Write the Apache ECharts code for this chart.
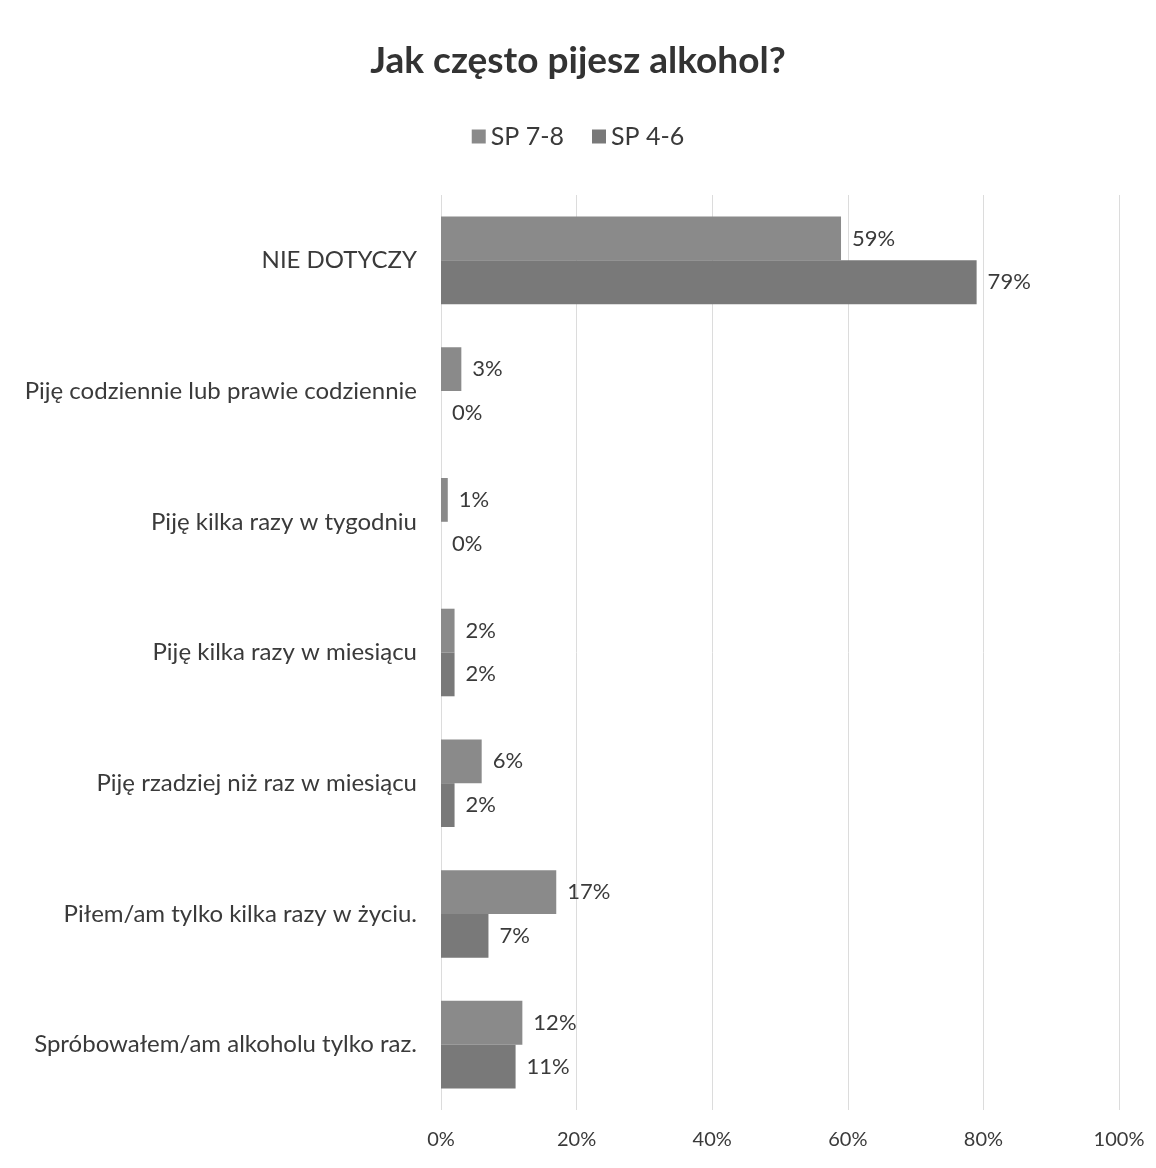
<!DOCTYPE html>
<html><head><meta charset="utf-8">
<script src="https://cdn.jsdelivr.net/npm/echarts@6/dist/echarts.min.js"></script>
<style>html,body{margin:0;padding:0;background:#fff}#c{width:1156px;height:1168px}</style>
</head><body><div id="c"></div>
<script>
const categories = ["NIE DOTYCZY","Piję codziennie lub prawie codziennie","Piję kilka razy w tygodniu","Piję kilka razy w miesiącu","Piję rzadziej niż raz w miesiącu","Piłem/am tylko kilka razy w życiu.","Spróbowałem/am alkoholu tylko raz."];
const sp78 = [59, 3, 1, 2, 6, 17, 12];
const sp46 = [79, 0, 0, 2, 2, 7, 11];
const seriesNames = ["SP 7-8", "SP 4-6"];
const xTicks = [0, 20, 40, 60, 80, 100];

const font = 'Lato, Carlito, "Liberation Sans", sans-serif';
const chart = echarts.init(document.getElementById('c'));
const labelCfg = {show:true, position:'right', distance:11, formatter: p => Math.round(p.value) + '%', color:'#3a3a3a', fontSize:22, fontFamily:font};
chart.setOption({
  backgroundColor:'#fff',
  animation:false,
  title:{text:'Jak często pijesz alkohol?', left:'center', top:38, textStyle:{fontFamily:font, fontSize:37, fontWeight:'bold', color:'#333'}},
  legend:{top:119, left:'center', itemWidth:14, itemHeight:14, itemGap:28, icon:'rect', textStyle:{fontFamily:font, fontSize:25, color:'#3a3a3a'}, data:seriesNames},
  grid:{left:441, right:37, top:195, bottom:58, containLabel:false},
  xAxis:{type:'value', min:xTicks[0], max:xTicks[xTicks.length-1], interval:20,
    axisLabel:{formatter: v => v + '%', color:'#3a3a3a', fontSize:20, fontFamily:font, margin:20},
    axisLine:{show:false}, axisTick:{show:false},
    splitLine:{show:true, lineStyle:{color:'#dcdcdc', width:1}}},
  yAxis:{type:'category', data:categories, inverse:true,
    axisLabel:{color:'#3a3a3a', fontSize:24, fontFamily:font, margin:24},
    axisLine:{show:false}, axisTick:{show:false}},
  series:[
    {name:seriesNames[0], type:'bar', data:sp78, barGap:'0%', barCategoryGap:'33%', itemStyle:{color:'#8a8a8a'}, label:labelCfg},
    {name:seriesNames[1], type:'bar', data:sp46, barGap:'0%', barCategoryGap:'33%', itemStyle:{color:'#797979'}, label:labelCfg}
  ]
});
</script></body></html>
